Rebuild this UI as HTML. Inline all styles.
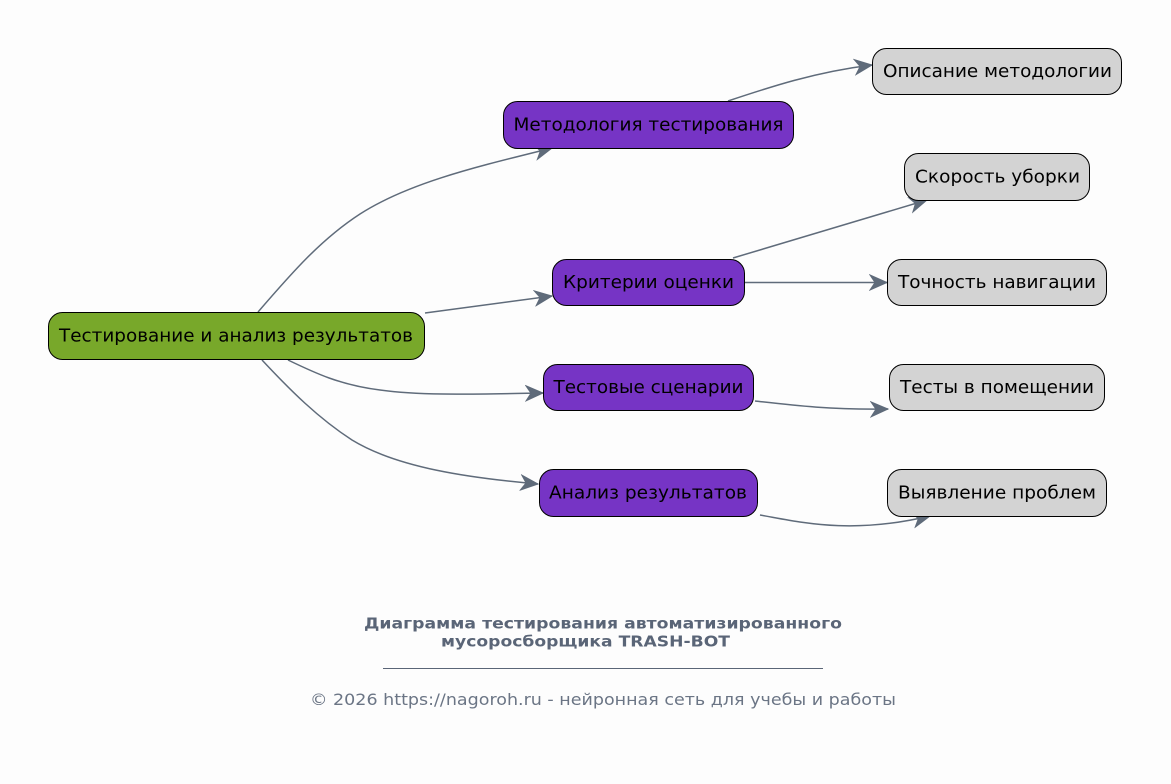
<!DOCTYPE html>
<html><head><meta charset="utf-8"><style>
html,body{margin:0;padding:0;background:#fdfdfd;}
svg{display:block;}
text{font-family:"DejaVu Sans","Liberation Sans",sans-serif;}
</style></head><body>
<svg width="1171" height="784" viewBox="0 0 1171 784" xmlns="http://www.w3.org/2000/svg">
<defs>
<marker id="a" markerUnits="userSpaceOnUse" viewBox="-1 -9 20 18" markerWidth="20" markerHeight="18" refX="17" refY="0" orient="auto">
<path d="M0,-7.5 L17,0 L0,7.5 L5,0 Z" fill="#5f6b7a" stroke="#5f6b7a" stroke-width="1"/>
</marker>
</defs>
<rect width="1171" height="784" fill="#fdfdfd"/>
<g fill="none" stroke="#5f6b7a" stroke-width="1.5" marker-end="url(#a)">
<path d="M258,312 C290,275 320,240 360,214 C410,182 480,166 552,148"/>
<path d="M425,313 L552,296"/>
<path d="M288,360 C315,373 340,385 380,390 C420,396 480,394 543,393"/>
<path d="M262,360 C290,390 318,418 352,440 C398,468 470,478 538,484"/>
<path d="M728,101 C770,87 815,72 872,65"/>
<path d="M733,258 L927,200"/>
<path d="M745,282.5 L887,282.5"/>
<path d="M755,401 C790,405 830,410 888,409"/>
<path d="M760,515 C800,522 850,535 930,516"/>
</g>
<g stroke="#000" stroke-width="1">
<rect x="48.5" y="312.5" width="376" height="47" rx="14" fill="#78a82a"/>
<rect x="503.5" y="101.5" width="290" height="47" rx="14" fill="#7634c5"/>
<rect x="552.5" y="259.5" width="192" height="46" rx="14" fill="#7634c5"/>
<rect x="543.5" y="364.5" width="210" height="46" rx="14" fill="#7634c5"/>
<rect x="539.5" y="469.5" width="218" height="47" rx="14" fill="#7634c5"/>
<rect x="872.5" y="48.5" width="249" height="46" rx="14" fill="#d3d3d3"/>
<rect x="904.5" y="153.5" width="185" height="47" rx="14" fill="#d3d3d3"/>
<rect x="887.5" y="259.5" width="219" height="46" rx="14" fill="#d3d3d3"/>
<rect x="889.5" y="364.5" width="215" height="46" rx="14" fill="#d3d3d3"/>
<rect x="887.5" y="469.5" width="219" height="47" rx="14" fill="#d3d3d3"/>
</g>
<g font-size="18" fill="#000" text-anchor="middle">
<text x="236" y="341.5" textLength="354" lengthAdjust="spacingAndGlyphs">Тестирование и анализ результатов</text>
<text x="648.5" y="130.5" textLength="270" lengthAdjust="spacingAndGlyphs">Методология тестирования</text>
<text x="648.5" y="288" textLength="171" lengthAdjust="spacingAndGlyphs">Критерии оценки</text>
<text x="648.5" y="393" textLength="190" lengthAdjust="spacingAndGlyphs">Тестовые сценарии</text>
<text x="648" y="498.5" textLength="198" lengthAdjust="spacingAndGlyphs">Анализ результатов</text>
<text x="997.5" y="77" textLength="229" lengthAdjust="spacingAndGlyphs">Описание методологии</text>
<text x="997.5" y="182.5" textLength="165" lengthAdjust="spacingAndGlyphs">Скорость уборки</text>
<text x="997" y="288" textLength="198" lengthAdjust="spacingAndGlyphs">Точность навигации</text>
<text x="997" y="393" textLength="194" lengthAdjust="spacingAndGlyphs">Тесты в помещении</text>
<text x="997" y="498.5" textLength="198" lengthAdjust="spacingAndGlyphs">Выявление проблем</text>
</g>
<g fill="#5a6577" font-weight="bold" font-size="15.3">
<text x="364" y="628.3" textLength="478" lengthAdjust="spacingAndGlyphs">Диаграмма тестирования автоматизированного</text>
<text x="441" y="646.5" textLength="289" lengthAdjust="spacingAndGlyphs">мусоросборщика TRASH-BOT</text>
</g>
<line x1="383" y1="668.5" x2="823" y2="668.5" stroke="#5a6577" stroke-width="1"/>
<text x="310" y="705" font-size="16" fill="#6b7585" textLength="586" lengthAdjust="spacingAndGlyphs">© 2026 https://nagoroh.ru - нейронная сеть для учебы и работы</text>
</svg>
</body></html>
